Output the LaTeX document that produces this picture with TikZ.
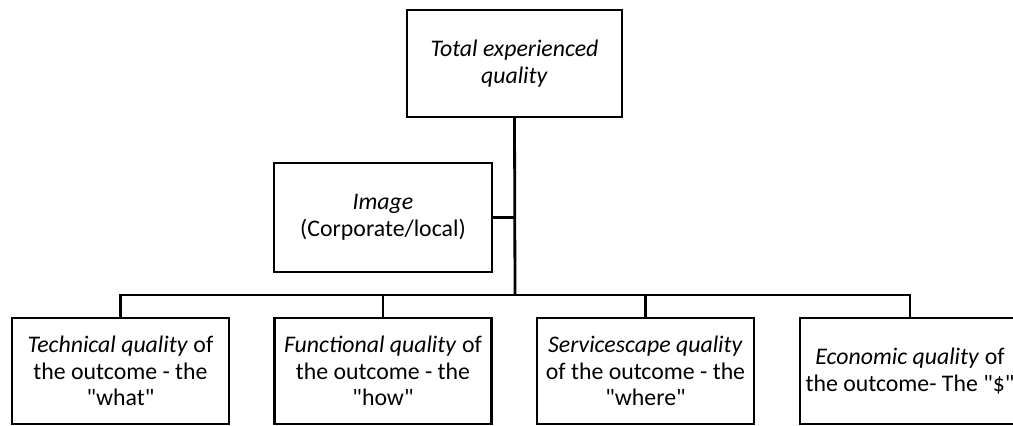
\documentclass[tikz,border=0pt]{standalone}
\usepackage{fontspec}
\setmainfont{Carlito}
\usetikzlibrary{positioning}
\newcommand{\qq}[1]{\textquotedbl#1\textquotedbl}

\begin{document}
\begin{tikzpicture}[x=1pt,y=-1pt,
qualitybox/.style={rectangle, draw=black, line width=2.6pt, align=center, inner sep=0pt, outer sep=0pt, font=\fontsize{23.8}{26.5}\selectfont},
bigbox/.style={qualitybox, minimum width=217pt, minimum height=107pt},
link/.style={line width=2.8pt},
]
\useasboundingbox (0,0) rectangle (1013,426);
\node[bigbox, minimum width=215pt] (total) at (514.5,63.5) {\textit{Total experienced}\\\textit{quality}};
\node[bigbox, minimum width=218pt, minimum height=109pt] (image) at (383,217.5) {\textit{Image}\\(Corporate/local)};
\node[bigbox, minimum height=106pt] (tech) at (120.5,371) {\textit{Technical quality} of\\the outcome - the\\\qq{what}};
\node[bigbox, minimum height=106pt] (func) at (383,371) {\textit{Functional quality} of\\the outcome - the\\\qq{how}};
\node[bigbox, minimum height=106pt] (serv) at (645.5,371) {\textit{Servicescape quality}\\of the outcome - the\\\qq{where}};
\node[bigbox, minimum width=220pt, minimum height=106pt] (econ) at (910,371) {\textit{Economic quality} of\\the outcome- The \qq{\$}};
\coordinate (hub) at (515,295);
%%
%% Lines
\draw[link] (total.south) -- (hub);
\draw[link] (image.east) -- (image.east -| hub);
\draw[link] (tech.north) |- (econ.north |- hub) -- (econ.north);
\draw[link] (func.north) -- (func.north |- hub);
\draw[link] (serv.north) -- (serv.north |- hub);
\end{tikzpicture}
\end{document}
